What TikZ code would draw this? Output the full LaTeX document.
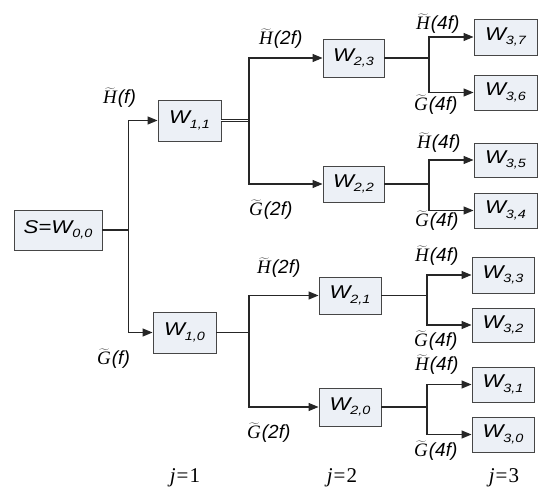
\documentclass[tikz,border=0pt]{standalone}
\usepackage{fontspec}
\setsansfont{Liberation Sans}
\newfontfamily\jfont{Liberation Serif}
\usetikzlibrary{arrows.meta}
\definecolor{boxfill}{RGB}{236,240,246}
\definecolor{boxline}{RGB}{70,70,70}
\newcommand\wbox[2]{\scalebox{1.2}[1]{\sffamily\itshape\fontsize{18.5}{18.5}\selectfont #1\raisebox{-0.45ex}{\fontsize{12}{12}\selectfont #2}}}
\newcommand\Hlab[1]{{\fontsize{19}{19}\selectfont$\widetilde{\mbox{\jfont\itshape H}}$\kern1pt{\sffamily\itshape(#1)}}}
\newcommand\Glab[1]{{\fontsize{19}{19}\selectfont$\widetilde{\mbox{\jfont\itshape G}}$\kern1pt{\sffamily\itshape(#1)}}}
\newcommand\jlab[1]{{\jfont\fontsize{21}{21}\selectfont\textit{j}\kern1pt=\kern1pt#1}}
\begin{document}
\begin{tikzpicture}[x=1pt,y=-1pt,
  wb/.style={draw=boxline,line width=0.9pt,fill=boxfill,inner sep=0pt,minimum width=63pt,minimum height=38pt},
  conn/.style={line width=1.1pt,black!85},
  arr/.style={conn,-{Triangle[length=10pt,width=8pt]}},
  lab/.style={inner sep=0pt,anchor=base west}]
\useasboundingbox (0,0) rectangle (550,502);
% nodes
\node[wb,minimum width=88pt,minimum height=40pt] (s) at (58,230) {\wbox{S=W}{0,0}};
\node[wb,minimum height=41pt] (w11) at (189.5,120.5) {\wbox{W}{1,1}};
\node[wb,minimum height=41pt] (w10) at (184.5,332.5) {\wbox{W}{1,0}};
\node[wb,minimum width=61pt] (w23) at (353.5,58) {\wbox{W}{2,3}};
\node[wb,minimum width=61pt,minimum height=36pt] (w22) at (353.5,184) {\wbox{W}{2,2}};
\node[wb,minimum width=62pt,minimum height=37pt] (w21) at (350,295.5) {\wbox{W}{2,1}};
\node[wb,minimum width=62pt] (w20) at (350,407) {\wbox{W}{2,0}};
\node[wb,minimum height=36pt] (w37) at (505.5,37) {\wbox{W}{3,7}};
\node[wb,minimum height=35pt] (w36) at (505.5,92.5) {\wbox{W}{3,6}};
\node[wb,minimum height=34pt] (w35) at (505.5,160) {\wbox{W}{3,5}};
\node[wb,minimum height=35pt] (w34) at (505.5,210.5) {\wbox{W}{3,4}};
\node[wb,minimum width=62pt,minimum height=36pt] (w33) at (503,275) {\wbox{W}{3,3}};
\node[wb,minimum width=62pt,minimum height=34pt] (w32) at (503,325) {\wbox{W}{3,2}};
\node[wb,minimum width=62pt,minimum height=35pt] (w31) at (503,384.5) {\wbox{W}{3,1}};
\node[wb,minimum width=62pt,minimum height=35pt] (w30) at (503,434.5) {\wbox{W}{3,0}};
% junctions
\coordinate (j0) at (128.5,230);
\coordinate (j11) at (249,120.5);
\coordinate (j10) at (249,332.5);
\coordinate (j23) at (429,58);
\coordinate (j22) at (429,184);
\coordinate (j21) at (427,295.5);
\coordinate (j20) at (427,407);
% connectors
\draw[conn] (s.east) -- (j0);
\draw[arr] (j0) |- (w11);
\draw[arr] (j0) |- (w10);
\draw[conn,double=white,double distance=1.3pt,line width=0.7pt] (w11.east) -- (j11);
\draw[arr] (j11) |- (w23);
\draw[arr] (j11) |- (w22);
\draw[conn] (w10.east) -- (j10);
\draw[arr] (j10) |- (w21);
\draw[arr] (j10) |- (w20);
\draw[conn] (w23.east) -- (j23);
\draw[arr] (j23) |- (w37);
\draw[arr] (j23) |- (w36);
\draw[conn] (w22.east) -- (j22);
\draw[arr] (j22) |- (w35);
\draw[arr] (j22) |- (w34);
\draw[conn] (w21.east) -- (j21);
\draw[arr] (j21) |- (w33);
\draw[arr] (j21) |- (w32);
\draw[conn] (w20.east) -- (j20);
\draw[arr] (j20) |- (w31);
\draw[arr] (j20) |- (w30);
% labels
\node[lab] (lh1) at (103,104) {\Hlab{f}};
\node[lab] (lg1) at (97,365) {\Glab{f}};
\node[lab] (lh23) at (259,45) {\Hlab{2f}};
\node[lab] (lg22) at (249,216) {\Glab{2f}};
\node[lab] (lh21) at (257,274) {\Hlab{2f}};
\node[lab] (lg20) at (247,439) {\Glab{2f}};
\node[lab] (lh37) at (416,30) {\Hlab{4f}};
\node[lab] (lg36) at (414,111) {\Glab{4f}};
\node[lab] (lh35) at (417,149) {\Hlab{4f}};
\node[lab] (lg34) at (415,227) {\Glab{4f}};
\node[lab] (lh33) at (415,262) {\Hlab{4f}};
\node[lab] (lg32) at (414,347) {\Glab{4f}};
\node[lab] (lh31) at (415,371) {\Hlab{4f}};
\node[lab] (lg30) at (414,457) {\Glab{4f}};
\node[inner sep=0pt,anchor=base] (jl1) at (185,483) {\jlab{1}};
\node[inner sep=0pt,anchor=base] (jl2) at (342,483) {\jlab{2}};
\node[inner sep=0pt,anchor=base] (jl3) at (504,483) {\jlab{3}};
\end{tikzpicture}
\end{document}
